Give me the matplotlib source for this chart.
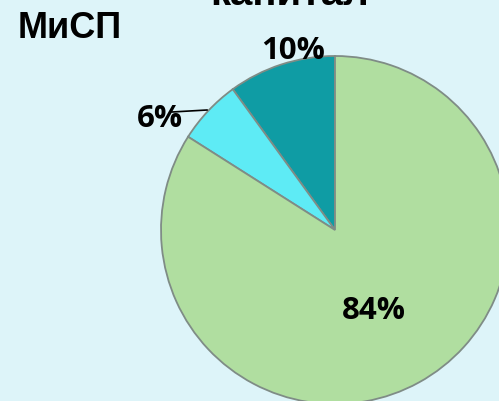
"""Pie chart: share of capital, МиСП."""
import matplotlib.pyplot as plt

# data
labels = ["10%", "6%", "84%"]
values = [10, 6, 84]
colors = ["#0f9ca4", "#5eebf5", "#b0dea0"]

BG = "#ddf4f9"
W, H = 499, 402

fig = plt.figure(figsize=(W / 100, H / 100), dpi=100, facecolor=BG)
ax = fig.add_axes([0, 0, 1, 1])
ax.set_facecolor(BG)

# pie centre / radius in pixel units (y measured from bottom)
cx, cy, r = 335, H - 231, 174
ax.pie(values, colors=colors, startangle=90, counterclock=True,
       center=(cx, cy), radius=r, frame=True,
       wedgeprops=dict(edgecolor="#7f8c86", linewidth=1.3))
ax.set_xlim(0, W)
ax.set_ylim(0, H)
ax.set_aspect("equal")
ax.axis("off")

lab_font = dict(family=["Open Sans", "DejaVu Sans"], fontweight="bold",
                fontsize=22.5, ha="center", va="center", color="black")
ax.text(293, H - 51, labels[0], **lab_font)
ax.text(160, H - 119, labels[1], **lab_font)
ax.text(374, H - 311, labels[2], **lab_font)

# leader line for the small slice
ax.plot([172, 207], [H - 113, H - 111], color="black", lw=1.2)

ax.text(18, H - 29, "МиСП", family=["Liberation Sans", "DejaVu Sans"],
        fontweight="bold", fontsize=26, ha="left", va="center")
ax.text(290, H - 5, "капитал", family=["Liberation Sans", "DejaVu Sans"],
        fontweight="bold", fontsize=29, ha="center", va="baseline")

fig.savefig("out.png", dpi=100, facecolor=BG)
